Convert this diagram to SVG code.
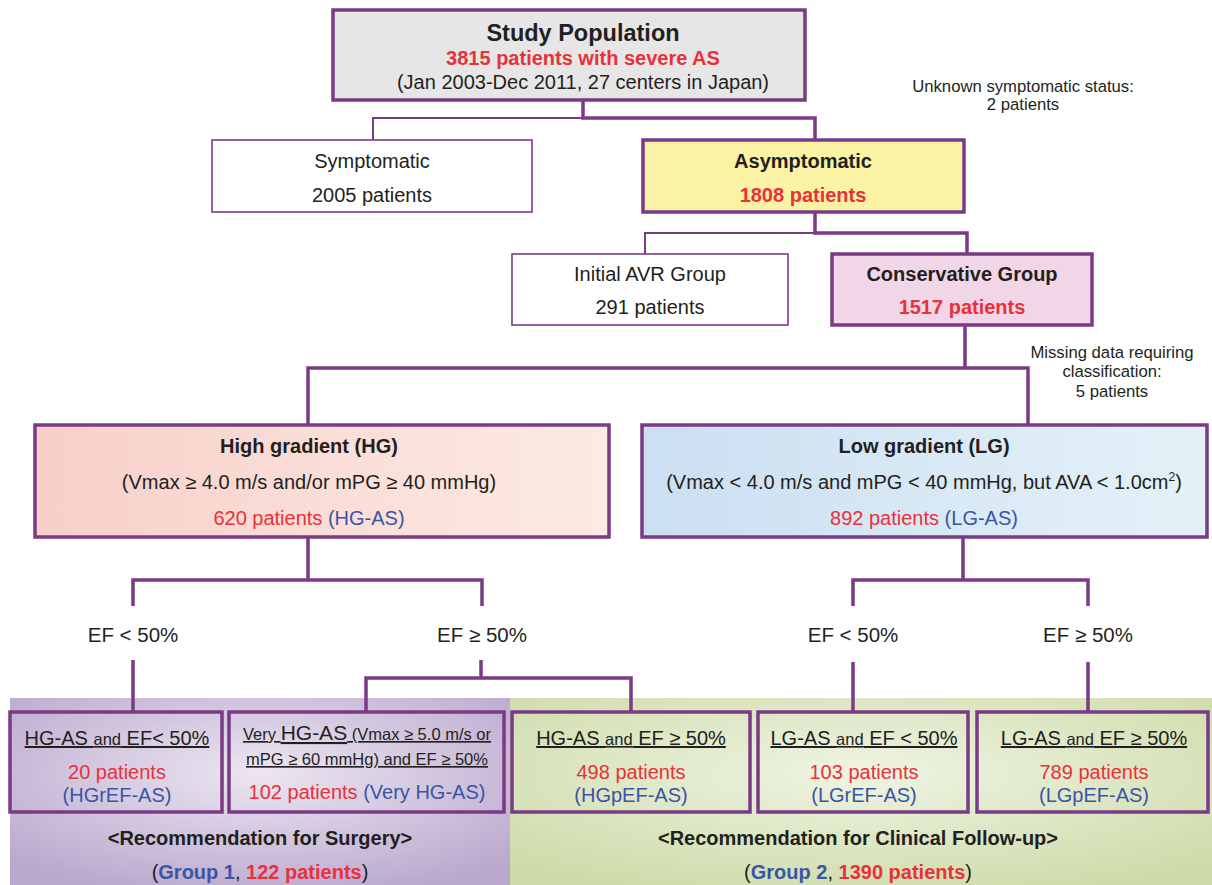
<svg xmlns="http://www.w3.org/2000/svg" width="1212" height="885" viewBox="0 0 1212 885">
<style>
text{font-family:"Liberation Sans",Arial,sans-serif;fill:#231f20;text-anchor:middle}
.b{font-weight:bold}
.r{fill:#e8313b}
.u{fill:#3a55a6}
.t{font-size:20px}
.s{font-size:16.7px}
.box{stroke:#7b3a86;stroke-width:3.5}
.thin{stroke:#7b3a86;stroke-width:1.6;fill:#fff}
.c{fill:none;stroke:#7b3a86;stroke-width:3.5;stroke-linejoin:miter}
.c2{fill:none;stroke:#7b3a86;stroke-width:2}
.ul{text-decoration:underline}
</style>
<defs>
<linearGradient id="hg" x1="0" y1="0" x2="1" y2="0"><stop offset="0" stop-color="#f8cfca"/><stop offset="1" stop-color="#fcebe3"/></linearGradient>
<linearGradient id="lg" x1="0" y1="0" x2="1" y2="0"><stop offset="0" stop-color="#cbdff2"/><stop offset="1" stop-color="#e4f1f8"/></linearGradient>
<radialGradient id="pp" cx="0.5" cy="0.4" r="0.7"><stop offset="0" stop-color="#ece6f1"/><stop offset="1" stop-color="#b9a7cd"/></radialGradient>
<radialGradient id="gp" cx="0.5" cy="0.4" r="0.7"><stop offset="0" stop-color="#eff4e3"/><stop offset="1" stop-color="#cddba8"/></radialGradient>
</defs>
<rect width="1212" height="885" fill="#fff"/>
<g id="panels">
<rect x="10" y="698" width="500" height="187" fill="url(#pp)"/>
<rect x="510" y="698" width="702" height="187" fill="url(#gp)"/>
</g>
<g id="connectors">
<path class="c" d="M583,100 V118 H815 V140"/>
<path class="c2" d="M583,118 H373 V140"/>
<path class="c" d="M815,212 V233 H967 V254"/>
<path class="c2" d="M815,233 H645 V254"/>
<path class="c" d="M965,325 V368 H308 V425 M965,368 H1028 V425"/>
<path class="c" d="M308,537 V580 H133 V606 M308,580 H482 V606"/>
<path class="c" d="M133,660 V712 M481,660 V678 H366 V712 M481,678 H631 V712"/>
<path class="c" d="M963,537 V580 H853 V606 M963,580 H1088 V606"/>
<path class="c" d="M853,662 V712 M1088,662 V712"/>
</g>
<g id="study">
<rect class="box" x="333" y="10" width="472" height="90" fill="#e6e6e6"/>
<text class="b" x="583" y="41" font-size="23.5">Study Population</text>
<text class="b r t" x="583" y="65">3815 patients with severe AS</text>
<text class="t" x="583" y="89">(Jan 2003-Dec 2011, 27 centers in Japan)</text>
</g>
<g id="unknown">
<text class="s" x="1023" y="92">Unknown symptomatic status:</text>
<text class="s" x="1023" y="110">2 patients</text>
</g>
<g id="symptomatic">
<rect class="thin" x="212" y="140" width="320" height="72"/>
<text class="t" x="372" y="168">Symptomatic</text>
<text class="t" x="372" y="202">2005 patients</text>
</g>
<g id="asymptomatic">
<rect class="box" x="643" y="140" width="321" height="72" fill="#fbf3a4"/>
<text class="b t" x="803" y="168">Asymptomatic</text>
<text class="b r t" x="803" y="202">1808 patients</text>
</g>
<g id="avr">
<rect class="thin" x="512" y="254" width="276" height="71"/>
<text class="t" x="650" y="281">Initial AVR Group</text>
<text class="t" x="650" y="314">291 patients</text>
</g>
<g id="conservative">
<rect class="box" x="832" y="254" width="260" height="71" fill="#f0d6e7"/>
<text class="b t" x="962" y="281">Conservative Group</text>
<text class="b r t" x="962" y="314">1517 patients</text>
</g>
<g id="missing">
<text class="s" x="1112" y="358">Missing data requiring</text>
<text class="s" x="1112" y="377">classification:</text>
<text class="s" x="1112" y="397">5 patients</text>
</g>
<g id="hg-box">
<rect class="box" x="35" y="425" width="574" height="112" fill="url(#hg)"/>
<text class="b t" x="309" y="453">High gradient (HG)</text>
<text class="t" x="309" y="489">(Vmax ≥ 4.0 m/s and/or mPG ≥ 40 mmHg)</text>
<text class="t" x="309" y="525"><tspan class="r">620 patients</tspan> <tspan class="u">(HG-AS)</tspan></text>
</g>
<g id="lg-box">
<rect class="box" x="642" y="425" width="565" height="112" fill="url(#lg)"/>
<text class="b t" x="924" y="453">Low gradient (LG)</text>
<text class="t" x="924" y="489">(Vmax &lt; 4.0 m/s and mPG &lt; 40 mmHg, but AVA &lt; 1.0cm<tspan font-size="12" dy="-8">2</tspan><tspan dy="8">)</tspan></text>
<text class="t" x="924" y="525"><tspan class="r">892 patients</tspan> <tspan class="u">(LG-AS)</tspan></text>
</g>
<g id="ef-labels">
<text x="133" y="642" font-size="20.5">EF &lt; 50%</text>
<text x="482" y="642" font-size="20.5">EF ≥ 50%</text>
<text x="853" y="642" font-size="20.5">EF &lt; 50%</text>
<text x="1088" y="642" font-size="20.5">EF ≥ 50%</text>
</g>
<g id="hgref">
<rect class="box" x="10" y="712" width="212" height="100" fill="none"/>
<text class="ul" x="117" y="745" font-size="20">HG-AS <tspan font-size="16.5">and</tspan> EF&lt; 50%</text>
<text class="r t" x="117" y="779">20 patients</text>
<text class="u t" x="117" y="802">(HGrEF-AS)</text>
</g>
<g id="veryhg">
<rect class="box" x="229" y="712" width="275" height="100" fill="none"/>
<text class="ul" x="367" y="740" font-size="16.5">Very <tspan font-size="21">HG-AS</tspan> (Vmax ≥ 5.0 m/s or</text>
<text class="ul" x="367" y="765" font-size="16.5">mPG ≥ 60 mmHg) and EF ≥ 50%</text>
<text class="t" x="367" y="799"><tspan class="r">102 patients</tspan> <tspan class="u">(Very HG-AS)</tspan></text>
</g>
<g id="hgpef">
<rect class="box" x="512" y="712" width="238" height="100" fill="none"/>
<text class="ul" x="631" y="745" font-size="20">HG-AS <tspan font-size="16.5">and</tspan> EF ≥ 50%</text>
<text class="r t" x="631" y="779">498 patients</text>
<text class="u t" x="631" y="802">(HGpEF-AS)</text>
</g>
<g id="lgref">
<rect class="box" x="758" y="712" width="210" height="100" fill="none"/>
<text class="ul" x="864" y="745" font-size="20">LG-AS <tspan font-size="16.5">and</tspan> EF &lt; 50%</text>
<text class="r t" x="864" y="779">103 patients</text>
<text class="u t" x="864" y="802">(LGrEF-AS)</text>
</g>
<g id="lgpef">
<rect class="box" x="977" y="712" width="231" height="100" fill="none"/>
<text class="ul" x="1094" y="745" font-size="20">LG-AS <tspan font-size="16.5">and</tspan> EF ≥ 50%</text>
<text class="r t" x="1094" y="779">789 patients</text>
<text class="u t" x="1094" y="802">(LGpEF-AS)</text>
</g>
<g id="group1">
<text class="b t" x="260" y="845">&lt;Recommendation for Surgery&gt;</text>
<text class="b t" x="260" y="879"><tspan font-weight="normal">(</tspan><tspan class="u">Group 1</tspan><tspan font-weight="normal">, </tspan><tspan class="r">122 patients</tspan><tspan font-weight="normal">)</tspan></text>
</g>
<g id="group2">
<text class="b t" x="858" y="845">&lt;Recommendation for Clinical Follow-up&gt;</text>
<text class="b t" x="858" y="879"><tspan font-weight="normal">(</tspan><tspan class="u">Group 2</tspan><tspan font-weight="normal">, </tspan><tspan class="r">1390 patients</tspan><tspan font-weight="normal">)</tspan></text>
</g>
</svg>
